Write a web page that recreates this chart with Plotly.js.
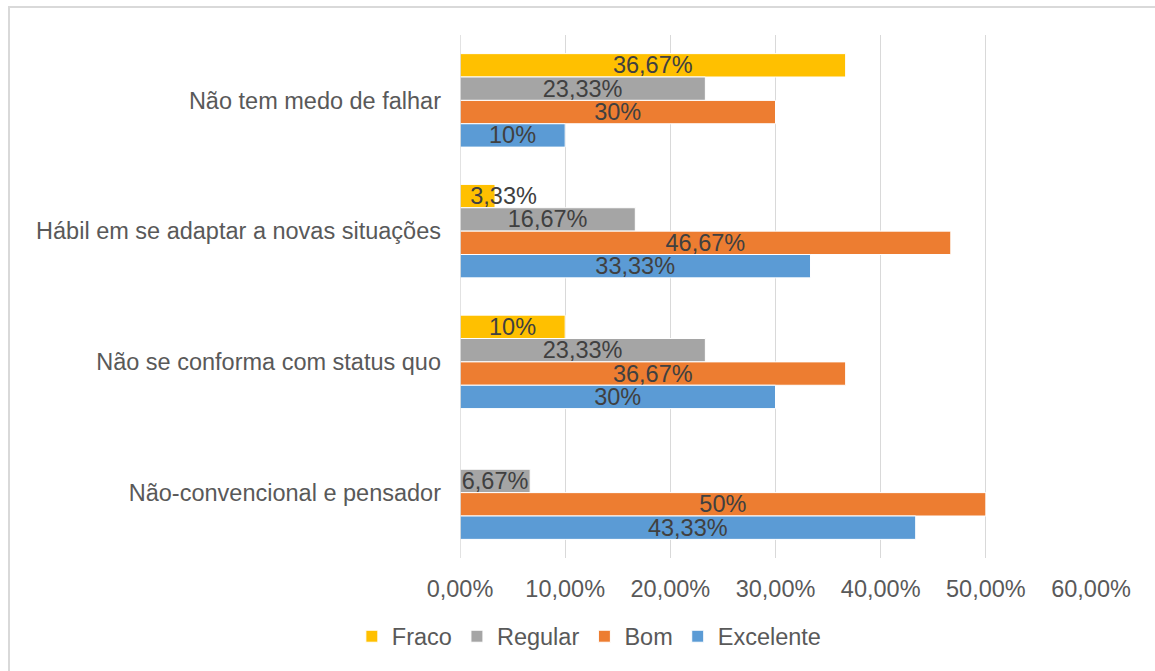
<!DOCTYPE html>
<html>
<head>
<meta charset="utf-8">
<script src="https://cdn.plot.ly/plotly-3.0.1.min.js"></script>
<style>
  html, body { margin: 0; padding: 0; background: #fff; overflow: hidden; }
  #frame { position: absolute; left: 8px; top: 6px; width: 1200px; height: 700px;
           border-left: 2px solid #D9D9D9; border-top: 2px solid #D9D9D9; }
  #chart { position: absolute; left: 0; top: 0; width: 1155px; height: 671px; }
</style>
</head>
<body>
<div id="frame"></div>
<div id="chart"></div>
<script>
// Categories, top to bottom
const categories = [
  "Não tem medo de falhar",
  "Hábil em se adaptar a novas situações",
  "Não se conforma com status quo",
  "Não-convencional e pensador"
];
const fraco     = [36.67, 3.33, 10, 0];
const regular   = [23.33, 16.67, 23.33, 6.67];
const bom       = [30, 46.67, 36.67, 50];
const excelente = [10, 33.33, 30, 43.33];
const seriesNames = ["Fraco", "Regular", "Bom", "Excelente"];
const xTicks = [0, 10, 20, 30, 40, 50, 60];
const xTickText = xTicks.map(v => v.toFixed(2).replace(".", ",") + "%");

const colors = ["#FFC000", "#A5A5A5", "#ED7D31", "#5B9BD5"];

function label(v) {
  if (v === 0) return "";
  let s;
  if (Math.abs(v - Math.round(v)) < 1e-9) s = Math.round(v) + "%";
  else s = v.toFixed(2).replace(".", ",") + "%";
  // very short bars: label starts at the bar's base (as in the original)
  if (v < 5) s = "\u00A0".repeat(8) + s;
  return s;
}

const seriesValues = [fraco, regular, bom, excelente];
const FONT = "Liberation Sans, Arial, sans-serif";

const traces = seriesValues.map((vals, i) => ({
  type: "bar",
  orientation: "h",
  name: seriesNames[i],
  y: categories,
  x: vals,
  text: vals.map(label),
  textposition: "inside",
  insidetextanchor: "middle",
  constraintext: "none",
  textangle: 0,
  cliponaxis: false,
  textfont: { family: FONT, size: 23.5, color: "#404040" },
  marker: { color: colors[i], line: { color: "#FFFFFF", width: 1 } },
  hoverinfo: "skip"
}));

const layout = {
  width: 1155,
  height: 671,
  paper_bgcolor: "rgba(0,0,0,0)",
  plot_bgcolor: "rgba(0,0,0,0)",
  margin: { l: 460, r: 64, t: 35, b: 110 },
  barmode: "group",
  bargap: 0.285,
  bargroupgap: 0,
  showlegend: true,
  font: { family: FONT, size: 23.5, color: "#595959" },
  xaxis: {
    range: [0, 60],
    tickmode: "array",
    tickvals: xTicks,
    ticktext: xTickText,
    showgrid: true,
    gridcolor: "#D9D9D9",
    gridwidth: 1,
    zeroline: false,
    showline: false,
    ticks: "",
    ticklabelstandoff: 14,
    tickfont: { family: FONT, size: 23.5, color: "#595959" },
    fixedrange: true
  },
  yaxis: {
    type: "category",
    autorange: "reversed",
    showgrid: false,
    zeroline: false,
    showline: false,
    ticks: "",
    ticklabelstandoff: 18,
    tickfont: { family: FONT, size: 23.5, color: "#595959" },
    fixedrange: true
  },
  shapes: [{
    type: "line", xref: "x", yref: "paper",
    x0: 0, x1: 0, y0: 0, y1: 1,
    line: { color: "#D9D9D9", width: 1.5 }
  }],
  legend: {
    orientation: "h",
    x: 0.205, xanchor: "center",
    y: -0.15, yanchor: "middle",
    font: { family: FONT, size: 23.5, color: "#595959" },
    itemwidth: 30,
    traceorder: "normal"
  }
};

Plotly.newPlot("chart", traces, layout, { displayModeBar: false, staticPlot: true });
</script>
</body>
</html>
